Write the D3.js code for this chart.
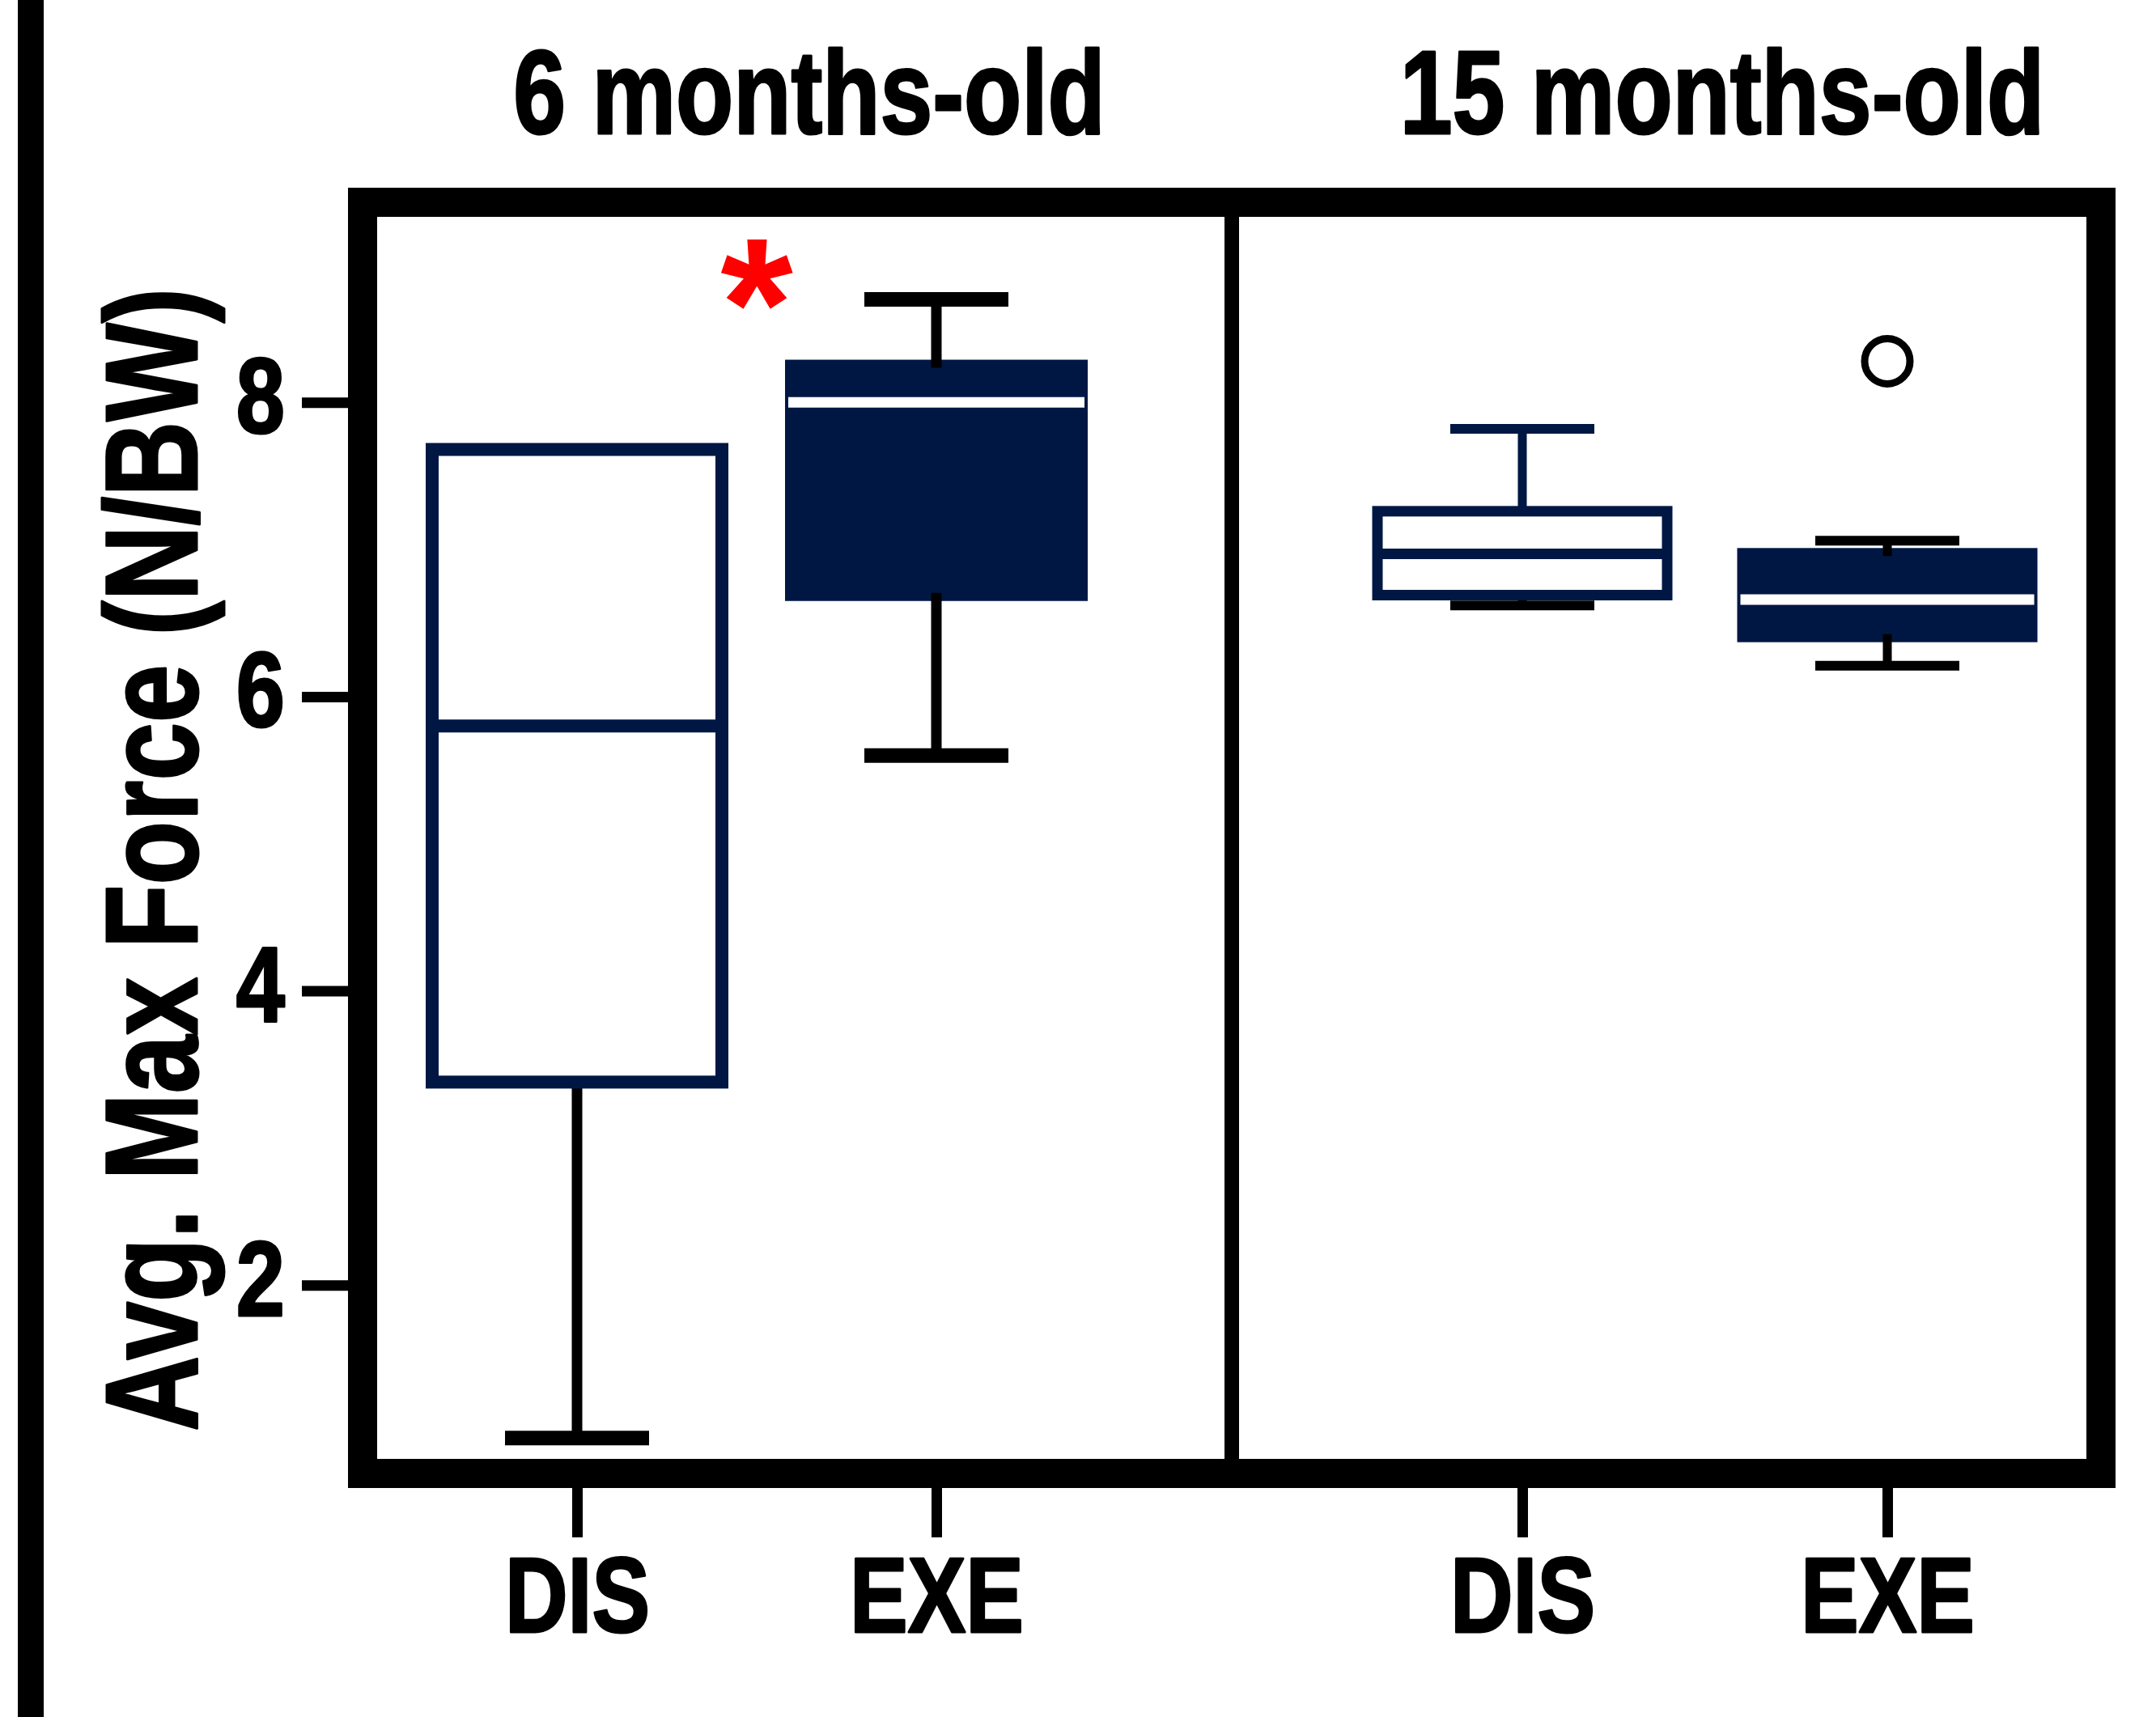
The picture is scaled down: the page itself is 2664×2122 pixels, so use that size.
<!DOCTYPE html>
<html>
<head>
<meta charset="utf-8">
<script src="https://cdn.jsdelivr.net/npm/d3@7"></script>
<style>
	html, body { margin: 0; padding: 0; background: #fff; }
	svg { display: block; }
</style>
</head>
<body>
<svg id="chart"></svg>
<script>
// values
var groups = ["6 months-old", "15 months-old"];
var conditions = ["DIS", "EXE"];
var boxMin    = [0.96, 5.60, 6.62, 6.21];
var boxQ1     = [3.38, 6.65, 6.69, 6.37];
var boxMedian = [5.80, 8.00, 6.97, 6.66];
var boxQ3     = [7.68, 8.29, 7.26, 7.01];
var boxMax    = [7.68, 8.70, 7.82, 7.06];
var outliers  = [[], [], [], [8.28]];
var yTicks = [2, 4, 6, 8];
var yTitle = "Avg. Max Force (N/BW)";
var starGroup = "6 months-old";
var starValue = 8.87;

// layout + style
var width = 2664, height = 2122;
var frame = { left: 448, right: 2596, top: 250, bottom: 1821, stroke: 36 };
var navy = "#011743";
var panelPad = [[265, 365], [359, 264]];
var panelStyle = [
	{ box: 16, whisker: 13, cap: 18 },
	{ box: 13, whisker: 11, cap: 12 }
];
var upperWhiskerColors = ["#000", "#000", navy, "#000"];
var boxWidth = 358;
var capWidth = 178;
var titleX = [1000, 2128];
var textBold = 3; // extra outline, the original lettering is heavier than the installed faces

var svg = d3.select("#chart").attr("width", width).attr("height", height);
svg.append("rect").attr("width", width).attr("height", height).attr("fill", "#fff");

// check that the narrow face exists, otherwise squeeze the regular one
function narrowAvailable() {
	var t = svg.append("text").attr("font-weight", "bold").attr("font-size", 100).text("MONTHS old");
	t.attr("font-family", "'Liberation Sans Narrow'");
	var a = t.node().getComputedTextLength();
	t.attr("font-family", "'Liberation Sans'");
	var b = t.node().getComputedTextLength();
	t.remove();
	return a < b * 0.9;
}
var narrow = narrowAvailable();
var fontFamily = narrow ? "'Liberation Sans Narrow', 'Arial Narrow', sans-serif" : "'Liberation Sans', Arial, sans-serif";
var squeeze = narrow ? 1 : 0.82;

function styleText(sel, size) {
	return sel.attr("font-family", fontFamily).attr("font-weight", "bold").attr("font-size", size)
		.attr("fill", "#000").attr("stroke", "#000").attr("stroke-width", textBold)
		.attr("stroke-linejoin", "round");
}

var y = d3.scaleLinear().domain([0.72, 9.36]).range([frame.bottom, frame.top]);
var xPanel = d3.scaleBand().domain(groups).range([frame.left, frame.right]);
var xInner = panelPad.map(function (p) {
	return d3.scalePoint().domain(conditions).range([p[0], xPanel.bandwidth() - p[1]]);
});

var boxes = [];
groups.forEach(function (g, gi) {
	conditions.forEach(function (c, ci) {
		var i = gi * conditions.length + ci;
		boxes.push({
			index: i, group: g, groupIndex: gi, condition: c,
			min: boxMin[i], q1: boxQ1[i], median: boxMedian[i], q3: boxQ3[i], max: boxMax[i],
			outliers: outliers[i]
		});
	});
});

function xPos(d) {
	return xPanel(d.group) + xInner[d.groupIndex](d.condition);
}

// left edge bar of the figure
svg.append("line")
	.attr("x1", 38).attr("x2", 38).attr("y1", 0).attr("y2", height)
	.attr("stroke", "#000").attr("stroke-width", 32);

// y axis
var yAxis = svg.append("g")
	.attr("transform", "translate(" + (frame.left - frame.stroke / 2) + ",0)")
	.call(d3.axisLeft(y).tickValues(yTicks).tickSize(57).tickPadding(20));
yAxis.select(".domain").remove();
yAxis.selectAll(".tick line").attr("stroke", "#000").attr("stroke-width", 13);
styleText(yAxis.selectAll(".tick text"), 132)
	.attr("x", 0)
	.attr("dy", "0.28em")
	.attr("transform", "translate(-78,0) scale(" + squeeze + ",1)");

// x axes, one per panel
groups.forEach(function (g, gi) {
	var ax = svg.append("g")
		.attr("transform", "translate(" + xPanel(g) + "," + (frame.bottom + frame.stroke / 2) + ")")
		.call(d3.axisBottom(xInner[gi]).tickSize(61).tickPadding(24));
	ax.select(".domain").remove();
	ax.selectAll(".tick line").attr("stroke", "#000").attr("stroke-width", 13);
	styleText(ax.selectAll(".tick text"), 131)
		.attr("transform", "scale(" + squeeze + ",1)");
});

// boxes
var plot = svg.append("g");

function drawWhiskers(gBox, d, cx, st, overlap) {
	if (d.max > d.q3) {
		gBox.append("line")
			.attr("x1", cx).attr("x2", cx).attr("y1", y(d.max)).attr("y2", y(d.q3) + overlap)
			.attr("stroke", upperWhiskerColors[d.index]).attr("stroke-width", st.whisker);
		gBox.append("line")
			.attr("x1", cx - capWidth / 2).attr("x2", cx + capWidth / 2)
			.attr("y1", y(d.max)).attr("y2", y(d.max))
			.attr("stroke", upperWhiskerColors[d.index]).attr("stroke-width", st.cap);
	}
	if (d.min < d.q1) {
		gBox.append("line")
			.attr("x1", cx).attr("x2", cx).attr("y1", y(d.min)).attr("y2", y(d.q1) - overlap)
			.attr("stroke", "#000").attr("stroke-width", st.whisker);
		gBox.append("line")
			.attr("x1", cx - capWidth / 2).attr("x2", cx + capWidth / 2)
			.attr("y1", y(d.min)).attr("y2", y(d.min))
			.attr("stroke", "#000").attr("stroke-width", st.cap);
	}
}

boxes.forEach(function (d) {
	var st = panelStyle[d.groupIndex];
	var cx = xPos(d);
	var gBox = plot.append("g").attr("class", "box " + d.condition);
	var filled = d.condition === "EXE";

	if (!filled) {
		drawWhiskers(gBox, d, cx, st, 0);
		gBox.append("rect")
			.attr("x", cx - boxWidth / 2).attr("width", boxWidth)
			.attr("y", y(d.q3)).attr("height", y(d.q1) - y(d.q3))
			.attr("fill", "#fff").attr("stroke", navy).attr("stroke-width", st.box);
		gBox.append("line")
			.attr("x1", cx - boxWidth / 2).attr("x2", cx + boxWidth / 2)
			.attr("y1", y(d.median)).attr("y2", y(d.median))
			.attr("stroke", navy).attr("stroke-width", st.box);
	} else {
		var w = boxWidth + st.box;
		gBox.append("rect")
			.attr("x", cx - w / 2).attr("width", w)
			.attr("y", y(d.q3)).attr("height", y(d.q1) - y(d.q3))
			.attr("fill", navy);
		gBox.append("line")
			.attr("x1", cx - w / 2 + 4).attr("x2", cx + w / 2 - 4)
			.attr("y1", y(d.median)).attr("y2", y(d.median))
			.attr("stroke", "#fff").attr("stroke-width", 13);
		drawWhiskers(gBox, d, cx, st, 10);
	}

	gBox.selectAll("circle.outlier").data(d.outliers).enter()
		.append("circle").attr("class", "outlier")
		.attr("cx", cx).attr("cy", function (v) { return y(v); }).attr("r", 28)
		.attr("fill", "#fff").attr("stroke", "#000").attr("stroke-width", 9);
});

// frame and panel divider
svg.append("rect")
	.attr("x", frame.left).attr("y", frame.top)
	.attr("width", frame.right - frame.left).attr("height", frame.bottom - frame.top)
	.attr("fill", "none").attr("stroke", "#000").attr("stroke-width", frame.stroke);
svg.append("line")
	.attr("x1", xPanel(groups[1])).attr("x2", xPanel(groups[1]))
	.attr("y1", frame.top).attr("y2", frame.bottom)
	.attr("stroke", "#000").attr("stroke-width", 18);

// panel titles
groups.forEach(function (g, gi) {
	styleText(svg.append("text"), 147)
		.attr("transform", "translate(" + titleX[gi] + ",165) scale(" + (0.967 * squeeze) + ",1)")
		.attr("text-anchor", "middle")
		.text(g);
});

// y title
styleText(svg.append("text"), 162)
	.attr("transform", "translate(243," + ((frame.top + frame.bottom) / 2 + 27) + ") rotate(-90) scale(" + (0.97 * squeeze) + ",1)")
	.attr("text-anchor", "middle")
	.text(yTitle);

// significance star, halfway between the two boxes of its panel
var starSize = 230;
var starX = xPanel(starGroup) + (xInner[0]("DIS") + xInner[0]("EXE")) / 2;
svg.append("text")
	.attr("x", starX).attr("y", y(starValue) + 0.505 * starSize)
	.attr("text-anchor", "middle")
	.attr("font-family", fontFamily).attr("font-weight", "bold").attr("font-size", starSize)
	.attr("fill", "#ff0000")
	.text("*");
</script>
</body>
</html>
